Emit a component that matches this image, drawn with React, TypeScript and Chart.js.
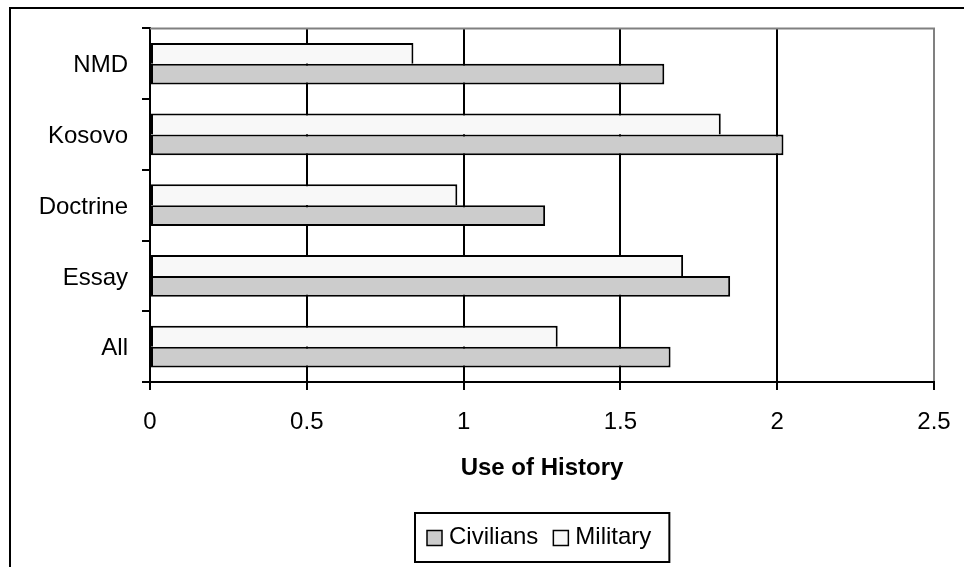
import React, { useEffect, useRef } from 'react';
import { Chart, registerables } from 'chart.js';

Chart.register(...registerables);

// Categories, listed top to bottom as they appear on the vertical axis
const categories = ['NMD', 'Kosovo', 'Doctrine', 'Essay', 'All'];
const militaryValues = [0.84, 1.82, 0.98, 1.7, 1.3];
const civilianValues = [1.64, 2.02, 1.26, 1.85, 1.66];
const xMin = 0;
const xMax = 2.5;
const xStep = 0.5;
const xAxisTitle = 'Use of History';

const FONT = "'Liberation Sans', Arial, Helvetica, sans-serif";
const FONT_SIZE = 24;

// Grey top edge of the plot area
const plotFrame = {
  id: 'plotFrame',
  beforeDatasetsDraw(chart: any) {
    const { ctx, chartArea } = chart;
    ctx.save();
    ctx.strokeStyle = '#808080';
    ctx.lineWidth = 2;
    ctx.beginPath();
    ctx.moveTo(chartArea.left, chartArea.top);
    ctx.lineTo(chartArea.right + 1, chartArea.top);
    ctx.stroke();
    ctx.restore();
  },
};

// Legend drawn in a framed box below the axis title, last dataset first
const boxedLegend = {
  id: 'boxedLegend',
  afterDraw(chart: any) {
    const { ctx, chartArea } = chart;
    const items = chart.data.datasets
      .map((ds: any) => ({ label: ds.label, fill: ds.backgroundColor }))
      .reverse();
    ctx.save();
    ctx.font = `${FONT_SIZE}px ${FONT}`;
    const sym = 15;
    const symGap = 7;
    const itemGap = 15;
    const padL = 12;
    const padR = 18;
    const widths = items.map((it: any) => ctx.measureText(it.label).width);
    let total = padL + padR + itemGap * (items.length - 1);
    widths.forEach((w: number) => (total += sym + symGap + w));
    const boxLeft = Math.round((chartArea.left + chartArea.right) / 2 - total / 2);
    const boxTop = chart.height - 54;
    const boxH = 49;
    const midY = boxTop + 25;

    ctx.strokeStyle = '#000';
    ctx.lineWidth = 2;
    ctx.strokeRect(boxLeft, boxTop, total, boxH);

    let x = boxLeft + padL;
    items.forEach((it: any, i: number) => {
      ctx.fillStyle = it.fill;
      ctx.fillRect(x, midY - sym / 2, sym, sym);
      ctx.lineWidth = 1.5;
      ctx.strokeStyle = '#000';
      ctx.strokeRect(x, midY - sym / 2, sym, sym);
      ctx.fillStyle = '#000';
      ctx.textBaseline = 'middle';
      ctx.textAlign = 'left';
      ctx.fillText(it.label, x + sym + symGap, midY - 1);
      x += sym + symGap + widths[i] + itemGap;
    });
    ctx.restore();
  },
};

export default function App() {
  const canvasRef = useRef<HTMLCanvasElement>(null);

  useEffect(() => {
    if (!canvasRef.current) return;
    const chart = new Chart(canvasRef.current, {
      type: 'bar',
      data: {
        labels: categories,
        datasets: [
          {
            label: 'Military',
            data: militaryValues,
            backgroundColor: '#f8f8f8',
            borderColor: '#000',
            // the shared edge with the bar below is drawn by that bar
            borderWidth: { top: 2, right: 2, bottom: 0, left: 2 },
            borderSkipped: false,
          },
          {
            label: 'Civilians',
            data: civilianValues,
            backgroundColor: '#cccccc',
            borderColor: '#000',
            borderWidth: 2,
            borderSkipped: false,
          },
        ],
      },
      options: {
        indexAxis: 'y',
        responsive: false,
        maintainAspectRatio: false,
        animation: false,
        devicePixelRatio: 1,
        layout: { padding: { top: 28, right: 30, bottom: 84, left: 0 } },
        datasets: {
          bar: { barPercentage: 1, categoryPercentage: 0.59 },
        },
        font: { family: FONT, size: FONT_SIZE },
        color: '#000',
        plugins: {
          legend: { display: false },
          tooltip: { enabled: false },
          title: { display: false },
        },
        scales: {
          x: {
            type: 'linear',
            min: xMin,
            max: xMax,
            afterFit: (scale: any) => {
              scale.height = 101;
              // end labels fit inside the layout padding
              scale.paddingLeft = 0;
              scale.paddingRight = 0;
            },
            ticks: {
              stepSize: xStep,
              color: '#000',
              padding: 18,
              font: { family: FONT, size: FONT_SIZE },
              callback: (v: any) => String(v),
            },
            grid: {
              display: true,
              drawOnChartArea: true,
              drawTicks: true,
              tickLength: 8,
              lineWidth: 2,
              tickColor: '#000',
              color: (ctx: any) => (ctx.tick && ctx.tick.value === xMax ? '#808080' : '#000'),
            },
            border: { display: true, color: '#000', width: 2 },
            title: {
              display: true,
              text: xAxisTitle,
              color: '#000',
              padding: { top: 0, bottom: 0 },
              font: { family: FONT, size: FONT_SIZE, weight: 'bold' },
            },
          },
          y: {
            type: 'category',
            afterFit: (scale: any) => {
              scale.width = 150;
            },
            ticks: {
              color: '#000',
              padding: 14,
              labelOffset: 2,
              font: { family: FONT, size: FONT_SIZE },
            },
            grid: {
              display: true,
              offset: true,
              drawOnChartArea: false,
              drawTicks: true,
              tickLength: 8,
              lineWidth: 2,
              color: '#000',
            },
            border: { display: true, color: '#000', width: 2 },
          },
        },
      },
      plugins: [plotFrame, boxedLegend],
    } as any);
    return () => chart.destroy();
  }, []);

  return (
    <div
      style={{
        position: 'fixed',
        left: 0,
        top: 0,
        width: 964,
        height: 567,
        overflow: 'hidden',
        background: '#fff',
      }}
    >
      <div
        style={{
          position: 'absolute',
          left: 9,
          top: 7,
          width: 1000,
          height: 620,
          border: '2px solid #000',
          boxSizing: 'border-box',
        }}
      />
      <canvas
        ref={canvasRef}
        width={964}
        height={567}
        style={{ position: 'absolute', left: 0, top: 0, width: 964, height: 567 }}
      />
    </div>
  );
}
